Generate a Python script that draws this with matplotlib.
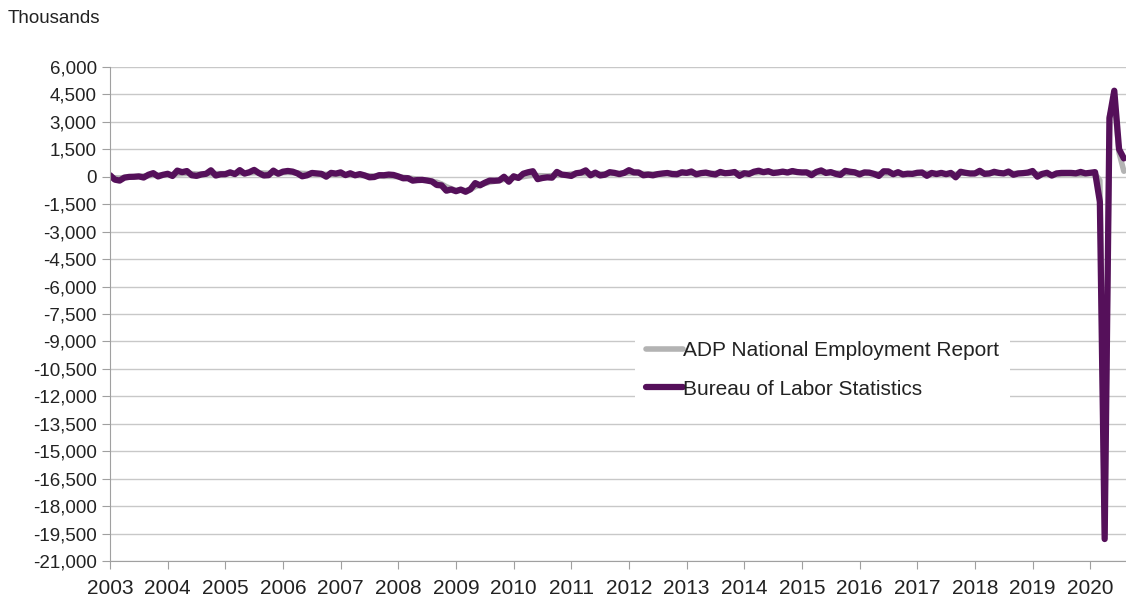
import matplotlib.pyplot as plt
import numpy as np
from matplotlib.ticker import FuncFormatter, MultipleLocator

plt.rcParams['font.family'] = ['Liberation Sans', 'DejaVu Sans']

# monthly change in employment, thousands, Jan 2003 - Aug 2020
bls = [84, -159, -212, -49, -9, -2, 17, -44, 108, 196, 14, 104,
       160, 41, 333, 249, 310, 81, 46, 122, 160, 351, 64, 133,
       136, 240, 142, 360, 170, 246, 373, 196, 67, 84, 334, 160,
       277, 315, 280, 182, 23, 77, 207, 184, 157, 2, 210, 171,
       238, 88, 188, 78, 144, 71, -33, -16, 85, 82, 118, 97,
       15, -86, -80, -214, -182, -172, -210, -259, -452, -474, -765, -697,
       -791, -703, -823, -687, -349, -471, -329, -213, -220, -204, -2, -275,
       23, -68, 164, 243, 300, -133, -70, -34, -52, 262, 119, 87,
       43, 189, 225, 346, 77, 225, 69, 110, 248, 209, 141, 209,
       358, 237, 233, 78, 115, 76, 143, 177, 203, 146, 132, 244,
       211, 286, 130, 197, 226, 162, 122, 261, 190, 212, 258, 47,
       190, 151, 272, 329, 246, 304, 202, 230, 280, 227, 312, 255,
       234, 238, 86, 262, 344, 206, 254, 157, 100, 321, 272, 239,
       126, 237, 225, 153, 43, 297, 291, 135, 249, 124, 164, 155,
       216, 232, 50, 207, 145, 210, 138, 208, -33, 271, 216, 175,
       176, 324, 155, 175, 268, 208, 178, 282, 108, 177, 196, 227,
       312, 1, 153, 216, 62, 182, 207, 207, 208, 185, 261, 184,
       214, 251, -1373, -19800, 3200, 4700, 1500, 1000]

adp = [-50, -60, -70, -40, -20, 0, 20, 40, 60, 80, 90, 100,
       110, 120, 150, 170, 180, 170, 150, 140, 150, 160, 170, 170,
       170, 180, 190, 200, 200, 210, 220, 210, 200, 190, 200, 210,
       220, 230, 220, 200, 180, 170, 160, 150, 140, 130, 130, 120,
       110, 100, 90, 80, 70, 60, 50, 40, 30, 20, 20, 10,
       0, -30, -60, -100, -130, -160, -200, -250, -300, -400, -550, -650,
       -750, -720, -760, -700, -550, -450, -370, -300, -250, -200, -150, -100,
       -60, -40, 0, 50, 80, 60, 50, 40, 60, 80, 100, 120,
       150, 170, 180, 170, 160, 150, 150, 160, 170, 170, 180, 190,
       200, 200, 190, 170, 160, 150, 160, 170, 180, 180, 180, 190,
       190, 190, 180, 180, 180, 180, 190, 190, 200, 200, 210, 210,
       200, 200, 210, 220, 230, 240, 240, 240, 240, 240, 240, 240,
       230, 220, 210, 210, 210, 210, 210, 200, 200, 200, 200, 210,
       200, 190, 180, 170, 160, 160, 170, 170, 170, 170, 170, 170,
       180, 190, 190, 180, 180, 170, 170, 170, 130, 200, 190, 190,
       200, 210, 200, 200, 190, 190, 190, 180, 180, 190, 190, 200,
       200, 150, 150, 130, 100, 120, 140, 150, 150, 140, 140, 150,
       170, 150, -200, -19500, 3300, 4200, 1300, 300]

years = list(range(2003, 2021))
t = 2003 + np.arange(len(bls)) / 12.0

fig = plt.figure(figsize=(11.26, 6.04), dpi=100)
ax = fig.add_axes([0.0977, 0.0712, 0.9023, 0.818])

ax.plot(t, adp, color='#B3B3B3', lw=4, solid_capstyle='round', label='ADP National Employment Report')
ax.plot(t, bls, color='#55105A', lw=4.5, solid_capstyle='round', label='Bureau of Labor Statistics')

ax.set_ylim(-21000, 6000)
ax.set_xlim(2003, 2020.62)
ax.yaxis.set_major_locator(MultipleLocator(1500))
ax.yaxis.set_major_formatter(FuncFormatter(lambda v, p: '{:,.0f}'.format(v)))
ax.set_xticks(years)
ax.set_xticklabels([str(y) for y in years])
ax.grid(True, axis='y', color='#C8C8C8', lw=1)
ax.set_axisbelow(True)
for s in ['top', 'right']:
    ax.spines[s].set_visible(False)
for s in ['left', 'bottom']:
    ax.spines[s].set_color('#A0A0A0')
ax.tick_params(axis='both', colors='#A0A0A0', labelcolor='#222222', length=6)
ax.tick_params(axis='y', labelsize=13.5)
ax.tick_params(axis='x', labelsize=15, pad=7)

leg = ax.legend(loc='upper left', bbox_to_anchor=(625 / 1126, 1 - 320 / 604), bbox_transform=fig.transFigure,
                fontsize=15, frameon=True, facecolor='white', edgecolor='none', framealpha=1,
                handlelength=1.8, handletextpad=0.0, labelspacing=0.95, borderpad=0.5, fancybox=False)
for txt in leg.get_texts():
    txt.set_color('#222222')

fig.text(0.007, 0.97, 'Thousands', fontsize=13.5, color='#222222', va='center')

fig.savefig('out.png', dpi=100)
